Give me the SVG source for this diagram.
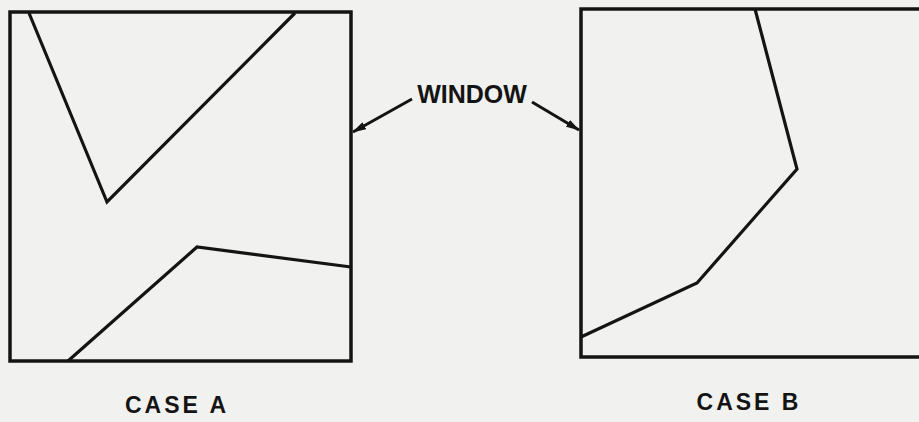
<svg xmlns="http://www.w3.org/2000/svg" width="919" height="422" viewBox="0 0 919 422">
<defs>
<style>
.frame{fill:none;stroke:#141414;stroke-width:3.5}
.edge{fill:none;stroke:#141414;stroke-width:3.2;stroke-linejoin:miter}
.lbl{font-family:"Liberation Sans",Arial,sans-serif;font-weight:bold;fill:#141414}
.case{letter-spacing:3px}
.conn{fill:none;stroke:#141414;stroke-width:3}
</style>
<marker id="ah" viewBox="0 0 14 8" refX="13" refY="4" markerWidth="14" markerHeight="8" markerUnits="userSpaceOnUse" orient="auto">
<path d="M0,0 L14,4 L0,8 z" fill="#141414"/>
</marker>
</defs>
<rect width="919" height="422" fill="#f1f1ef"/>
<g id="caseA">
<rect class="frame" x="10" y="12" width="341" height="349"/>
<polyline class="edge" points="29,13 107,202 295,13"/>
<polyline class="edge" points="68,361 197,247 351,267"/>
<text class="lbl case" x="177" y="413" font-size="23" text-anchor="middle">CASE A</text>
</g>
<g id="caseB">
<path class="frame" d="M925,9 H581 V357 H925"/>
<polyline class="edge" points="755,9 797,169 697,283 581,337"/>
<text class="lbl case" x="749" y="410" font-size="23" text-anchor="middle">CASE B</text>
</g>
<g id="window">
<text class="lbl" x="472" y="103" font-size="25" text-anchor="middle">WINDOW</text>
</g>
<g id="connectors">
<line class="conn" x1="412" y1="99" x2="353" y2="132" marker-end="url(#ah)"/>
<line class="conn" x1="532" y1="102" x2="579" y2="130" marker-end="url(#ah)"/>
</g>
</svg>
